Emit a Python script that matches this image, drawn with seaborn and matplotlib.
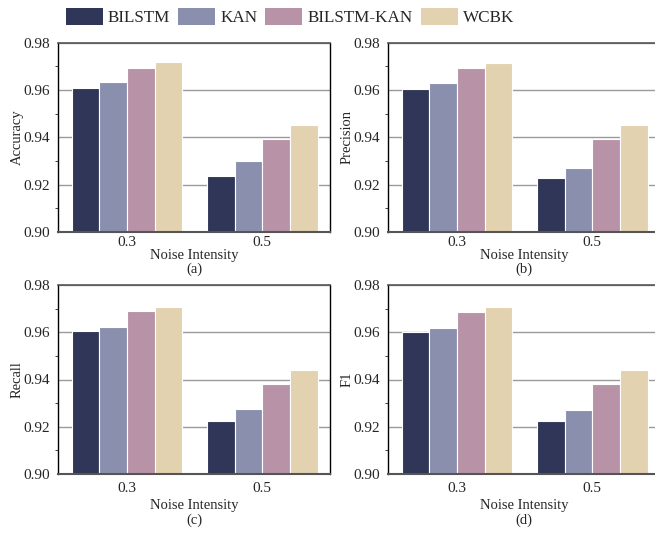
import matplotlib
matplotlib.use("Agg")
import matplotlib.pyplot as plt
from matplotlib.patches import Patch
from matplotlib.ticker import MultipleLocator
import pandas as pd
import seaborn as sns

# Model comparison under different noise intensities
noise_levels = ["0.3", "0.5"]
models = ["BILSTM", "KAN", "BILSTM-KAN", "WCBK"]
colors = ["#2f3657", "#8a8fae", "#b893a8", "#e3d2b0"]

accuracy = {"BILSTM": [0.9607, 0.9238], "KAN": [0.9633, 0.9298],
            "BILSTM-KAN": [0.9693, 0.9395], "WCBK": [0.9717, 0.9453]}
precision = {"BILSTM": [0.9605, 0.9230], "KAN": [0.9628, 0.9272],
             "BILSTM-KAN": [0.9691, 0.9392], "WCBK": [0.9713, 0.9454]}
recall = {"BILSTM": [0.9604, 0.9224], "KAN": [0.9623, 0.9276],
          "BILSTM-KAN": [0.9689, 0.9382], "WCBK": [0.9707, 0.9442]}
f1 = {"BILSTM": [0.9600, 0.9223], "KAN": [0.9620, 0.9273],
      "BILSTM-KAN": [0.9687, 0.9383], "WCBK": [0.9708, 0.9442]}

metrics = [("Accuracy", accuracy, "(a)"), ("Precision", precision, "(b)"),
           ("Recall", recall, "(c)"), ("F1", f1, "(d)")]

sns.set_style("white")
plt.rcParams["font.family"] = ["Liberation Serif", "DejaVu Serif"]

fig = plt.figure(figsize=(6.55, 5.33), dpi=100)

W, H = 655, 533
# panel boxes in pixels: left, top, right, bottom
boxes = [(58, 42.7, 330, 232), (388, 42.7, 660, 232),
         (58, 285, 330, 474), (388, 285, 660, 474)]
# per-row spacing of tick labels, axis label and panel tag
row_style = [dict(pad=3, labelpad=0, tag=-0.197),
             dict(pad=6, labelpad=3, tag=-0.243)]

palette = dict(zip(models, colors))

for i, ((name, data, tag), (x0, y0, x1, y1)) in enumerate(zip(metrics, boxes)):
    st = row_style[i // 2]
    ax = fig.add_axes([x0 / W, 1 - y1 / H, (x1 - x0) / W, (y1 - y0) / H])
    rows = []
    for m in models:
        for n, v in zip(noise_levels, data[m]):
            rows.append({"Noise Intensity": n, "Model": m, "value": v})
    df = pd.DataFrame(rows)
    sns.barplot(data=df, x="Noise Intensity", y="value", hue="Model",
                hue_order=models, order=noise_levels, palette=palette,
                width=0.82, edgecolor="white", linewidth=0.8,
                saturation=1, legend=False, ax=ax, zorder=3)
    ax.set_ylim(0.90, 0.98)
    ax.set_xlim(-0.51, 1.50)
    ax.yaxis.set_minor_locator(MultipleLocator(0.01))
    ax.set_yticks([0.90, 0.92, 0.94, 0.96, 0.98])
    ax.set_yticklabels(["0.90", "0.92", "0.94", "0.96", "0.98"])
    ax.set_xticks([0, 1])
    ax.grid(axis="y", color="#9a9a9a", linewidth=1.0, zorder=0)
    ax.set_axisbelow(True)
    ax.tick_params(axis="y", which="major", labelsize=11, direction="out",
                   length=4, width=0.8, color="black", pad=2)
    ax.tick_params(axis="y", which="minor", direction="out", length=2,
                   width=0.6, left=True)
    ax.tick_params(axis="x", which="major", labelsize=11, direction="in",
                   length=4, width=0.8, color="black", pad=st["pad"])
    ax.set_ylabel(name, fontsize=10.5, labelpad=-0.5)
    ax.set_xlabel("Noise Intensity", fontsize=10.5, labelpad=st["labelpad"])
    for s in ["left", "right"]:
        ax.spines[s].set_color("black")
        ax.spines[s].set_linewidth(1.0)
    ax.spines["top"].set_color("#555555")
    ax.spines["top"].set_linewidth(1.2)
    ax.spines["bottom"].set_color("#555555")
    ax.spines["bottom"].set_linewidth(1.5)
    for sp in ax.spines.values():
        sp.set_zorder(5)
    ax.text(0.5, st["tag"], tag, transform=ax.transAxes, ha="center",
            va="center", fontsize=10.5)

handles = [Patch(facecolor=c, edgecolor="none", label=m)
           for m, c in zip(models, colors)]
fig.legend(handles=handles, loc="center", bbox_to_anchor=(290 / W, 1 - 17 / H),
           ncol=4, frameon=False, fontsize=12.3, handlelength=2.16,
           handleheight=1.15, handletextpad=0.3, columnspacing=0.47,
           borderaxespad=0)

fig.savefig("out.png", dpi=100)
